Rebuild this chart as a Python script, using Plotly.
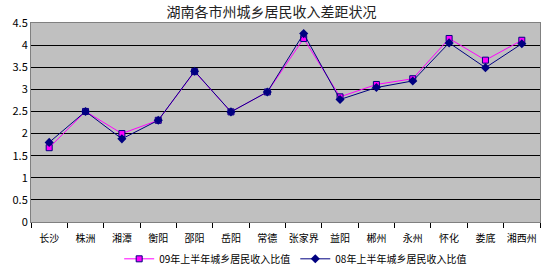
import plotly.graph_objects as go

cities = ["长沙", "株洲", "湘潭", "衡阳", "邵阳", "岳阳", "常德", "张家界", "益阳", "郴州", "永州", "怀化", "娄底", "湘西州"]
ratio_09 = [1.68, 2.5, 2.0, 2.3, 3.4, 2.49, 2.94, 4.15, 2.83, 3.11, 3.24, 4.15, 3.66, 4.11]
ratio_08 = [1.8, 2.5, 1.88, 2.3, 3.41, 2.49, 2.94, 4.26, 2.77, 3.04, 3.19, 4.05, 3.49, 4.03]
name_09 = "09年上半年城乡居民收入比值"
name_08 = "08年上半年城乡居民收入比值"
title = "湖南各市州城乡居民收入差距状况"

font = "Noto Sans CJK SC, Noto Sans, sans-serif"

fig = go.Figure()
fig.add_trace(go.Scatter(x=cities, y=ratio_09, name=name_09, mode="lines+markers",
                         line=dict(color="#FF00FF", width=1),
                         marker=dict(symbol="square", size=6, color="#FF00FF",
                                     line=dict(color="#000080", width=1))))
fig.add_trace(go.Scatter(x=cities, y=ratio_08, name=name_08, mode="lines+markers",
                         line=dict(color="#000080", width=1),
                         marker=dict(symbol="diamond", size=7, color="#000080")))

fig.update_layout(
    width=543, height=265,
    margin=dict(l=31, r=3, t=23, b=43, autoexpand=False),
    paper_bgcolor="white", plot_bgcolor="#C0C0C0",
    font=dict(family=font, size=11, color="black"),
    title=dict(text=title, x=0.5, xanchor="center", y=0.955, yanchor="middle",
               font=dict(size=14, color="#222222", family=font)),
    showlegend=True,
    legend=dict(orientation="h", x=0.52, xanchor="center", y=-0.185, yanchor="middle",
                font=dict(size=10), itemwidth=30, bgcolor="rgba(0,0,0,0)",
                tracegroupgap=0, borderwidth=0),
)
fig.update_xaxes(showgrid=False, ticks="outside", tickson="boundaries", ticklen=5,
                 tickcolor="black", showline=True, linecolor="#808080", mirror=True,
                 tickfont=dict(size=10), tickangle=0, automargin=False,
                 ticklabelstandoff=7, range=[-0.5, 13.5])
fig.update_yaxes(range=[0, 4.5], dtick=0.5, showgrid=True, gridcolor="black", gridwidth=1,
                 showline=True, linecolor="#808080", mirror=True, zeroline=False,
                 tickformat=".1~f", tickfont=dict(size=11), ticks="", automargin=False)

fig.write_html("out.html")
